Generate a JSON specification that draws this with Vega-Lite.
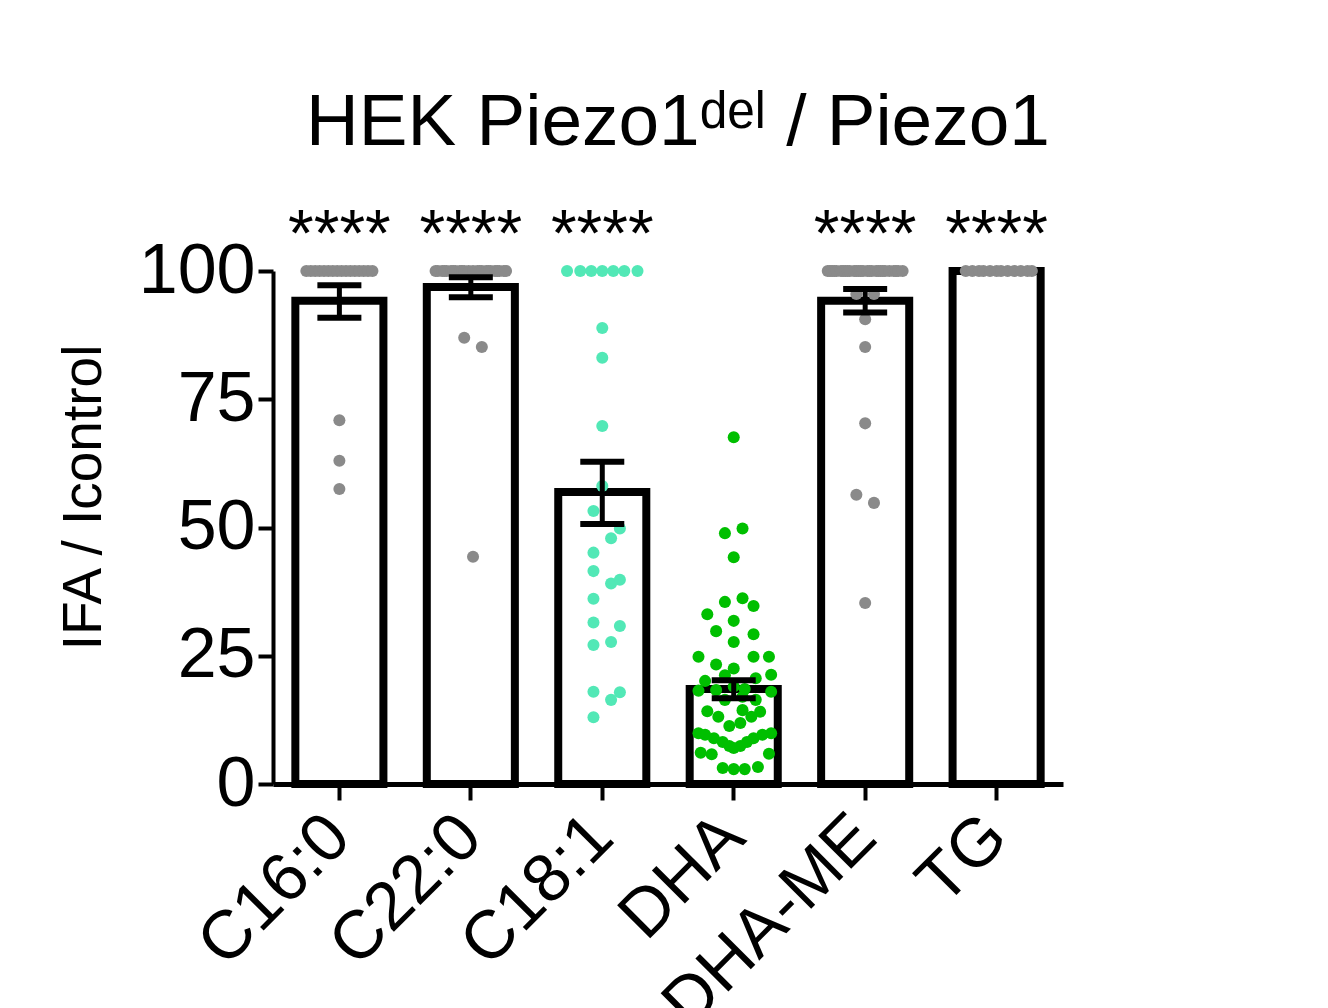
{
  "$schema": "https://vega.github.io/schema/vega-lite/v6.json",
  "width": 790,
  "height": 513,
  "autosize": {"type": "none"},
  "padding": {"left": 273, "top": 271, "right": 265, "bottom": 224},
  "background": "white",
  "config": {
    "font": "Liberation Sans",
    "view": {"stroke": null},
    "axisX": {
      "domainColor": "black", "domainWidth": 5,
      "tickColor": "black", "tickWidth": 4, "tickSize": 16,
      "labelFontSize": 68, "labelColor": "black", "labelAngle": -45,
      "labelAlign": "right", "labelBaseline": "middle", "labelPadding": 26,
      "labelLimit": 0, "grid": false
    },
    "axisY": {
      "domainColor": "black", "domainWidth": 4,
      "tickColor": "black", "tickWidth": 4, "tickSize": 15,
      "labelFontSize": 70, "labelColor": "black", "labelPadding": 3,
      "titleFontSize": 55, "titleFontWeight": "normal", "titleColor": "black",
      "titlePadding": 26, "grid": false
    }
  },
  "title": {
    "text": "HEK Piezo1ᵈᵉˡ / Piezo1",
    "fontSize": 73, "fontWeight": "normal", "color": "black",
    "anchor": "middle", "frame": "group", "baseline": "alphabetic",
    "offset": -15, "dx": 10
  },
  "resolve": {"scale": {"xOffset": "independent"}},
  "datasets": {
    "bars": [
      {"g": "C16:0", "mean": 94.2, "lo": 90.9, "hi": 97.2, "sig": "****"},
      {"g": "C22:0", "mean": 96.9, "lo": 94.9, "hi": 98.8, "sig": "****"},
      {"g": "C18:1", "mean": 56.9, "lo": 50.7, "hi": 62.8, "sig": "****"},
      {"g": "DHA", "mean": 18.5, "lo": 16.7, "hi": 20.2, "sig": ""},
      {"g": "DHA-ME", "mean": 94.2, "lo": 91.9, "hi": 96.5, "sig": "****"},
      {"g": "TG", "mean": 100, "lo": null, "hi": null, "sig": "****"}
    ],
    "pts": [
      {"g": "C16:0", "v": 100, "s": -15}, {"g": "C16:0", "v": 100, "s": -13},
      {"g": "C16:0", "v": 100, "s": -11}, {"g": "C16:0", "v": 100, "s": -9},
      {"g": "C16:0", "v": 100, "s": -7}, {"g": "C16:0", "v": 100, "s": -5},
      {"g": "C16:0", "v": 100, "s": -3}, {"g": "C16:0", "v": 100, "s": -1},
      {"g": "C16:0", "v": 100, "s": 1}, {"g": "C16:0", "v": 100, "s": 3},
      {"g": "C16:0", "v": 100, "s": 5}, {"g": "C16:0", "v": 100, "s": 7},
      {"g": "C16:0", "v": 100, "s": 9}, {"g": "C16:0", "v": 100, "s": 11},
      {"g": "C16:0", "v": 100, "s": 13}, {"g": "C16:0", "v": 100, "s": 15},
      {"g": "C16:0", "v": 70.9, "s": 0}, {"g": "C16:0", "v": 63.0, "s": 0},
      {"g": "C16:0", "v": 57.5, "s": 0},

      {"g": "C22:0", "v": 100, "s": -16}, {"g": "C22:0", "v": 100, "s": -15},
      {"g": "C22:0", "v": 100, "s": -13}, {"g": "C22:0", "v": 100, "s": -12},
      {"g": "C22:0", "v": 100, "s": -11}, {"g": "C22:0", "v": 100, "s": -9},
      {"g": "C22:0", "v": 100, "s": -8}, {"g": "C22:0", "v": 100, "s": -7},
      {"g": "C22:0", "v": 100, "s": -5}, {"g": "C22:0", "v": 100, "s": -4},
      {"g": "C22:0", "v": 100, "s": -3}, {"g": "C22:0", "v": 100, "s": -1},
      {"g": "C22:0", "v": 100, "s": 1}, {"g": "C22:0", "v": 100, "s": 3},
      {"g": "C22:0", "v": 100, "s": 4}, {"g": "C22:0", "v": 100, "s": 5},
      {"g": "C22:0", "v": 100, "s": 7}, {"g": "C22:0", "v": 100, "s": 8},
      {"g": "C22:0", "v": 100, "s": 9}, {"g": "C22:0", "v": 100, "s": 11},
      {"g": "C22:0", "v": 100, "s": 12}, {"g": "C22:0", "v": 100, "s": 13},
      {"g": "C22:0", "v": 100, "s": 15}, {"g": "C22:0", "v": 100, "s": 16},
      {"g": "C22:0", "v": 87.0, "s": -3}, {"g": "C22:0", "v": 85.2, "s": 5},
      {"g": "C22:0", "v": 44.3, "s": 1},

      {"g": "C18:1", "v": 100, "s": -16}, {"g": "C18:1", "v": 100, "s": -10},
      {"g": "C18:1", "v": 100, "s": -5}, {"g": "C18:1", "v": 100, "s": 0},
      {"g": "C18:1", "v": 100, "s": 5}, {"g": "C18:1", "v": 100, "s": 10},
      {"g": "C18:1", "v": 100, "s": 16},
      {"g": "C18:1", "v": 88.9, "s": 0}, {"g": "C18:1", "v": 83.1, "s": 0},
      {"g": "C18:1", "v": 69.8, "s": 0}, {"g": "C18:1", "v": 58.1, "s": 0},
      {"g": "C18:1", "v": 53.2, "s": -4}, {"g": "C18:1", "v": 49.8, "s": 8},
      {"g": "C18:1", "v": 47.9, "s": 4}, {"g": "C18:1", "v": 45.1, "s": -4},
      {"g": "C18:1", "v": 41.5, "s": -4}, {"g": "C18:1", "v": 39.1, "s": 4},
      {"g": "C18:1", "v": 39.8, "s": 8}, {"g": "C18:1", "v": 36.1, "s": -4},
      {"g": "C18:1", "v": 31.5, "s": -4}, {"g": "C18:1", "v": 30.8, "s": 8},
      {"g": "C18:1", "v": 27.7, "s": 4}, {"g": "C18:1", "v": 27.1, "s": -4},
      {"g": "C18:1", "v": 18.0, "s": -4}, {"g": "C18:1", "v": 17.9, "s": 8},
      {"g": "C18:1", "v": 16.4, "s": 4}, {"g": "C18:1", "v": 13.0, "s": -4},

      {"g": "DHA", "v": 67.6, "s": 0}, {"g": "DHA", "v": 48.9, "s": -4},
      {"g": "DHA", "v": 49.8, "s": 4}, {"g": "DHA", "v": 44.2, "s": 0},
      {"g": "DHA", "v": 35.5, "s": -4}, {"g": "DHA", "v": 36.2, "s": 4},
      {"g": "DHA", "v": 34.7, "s": 9}, {"g": "DHA", "v": 33.1, "s": -12},
      {"g": "DHA", "v": 31.8, "s": 0}, {"g": "DHA", "v": 29.8, "s": -8},
      {"g": "DHA", "v": 29.2, "s": 9}, {"g": "DHA", "v": 27.7, "s": 0},
      {"g": "DHA", "v": 24.8, "s": -16}, {"g": "DHA", "v": 24.8, "s": 9},
      {"g": "DHA", "v": 24.8, "s": 16}, {"g": "DHA", "v": 23.3, "s": -8},
      {"g": "DHA", "v": 22.5, "s": 0}, {"g": "DHA", "v": 21.2, "s": -4},
      {"g": "DHA", "v": 21.3, "s": 17}, {"g": "DHA", "v": 20.6, "s": 10},
      {"g": "DHA", "v": 20.1, "s": -13}, {"g": "DHA", "v": 18.2, "s": -16},
      {"g": "DHA", "v": 18.0, "s": 17}, {"g": "DHA", "v": 18.3, "s": -8},
      {"g": "DHA", "v": 19.0, "s": 0}, {"g": "DHA", "v": 18.5, "s": 5},
      {"g": "DHA", "v": 16.4, "s": -4}, {"g": "DHA", "v": 16.4, "s": 10},
      {"g": "DHA", "v": 17.0, "s": 4}, {"g": "DHA", "v": 14.2, "s": -12},
      {"g": "DHA", "v": 13.1, "s": -7}, {"g": "DHA", "v": 14.4, "s": 4},
      {"g": "DHA", "v": 14.1, "s": 12}, {"g": "DHA", "v": 13.1, "s": 8},
      {"g": "DHA", "v": 11.3, "s": -2}, {"g": "DHA", "v": 11.9, "s": 3},
      {"g": "DHA", "v": 9.9, "s": -16}, {"g": "DHA", "v": 9.6, "s": -13},
      {"g": "DHA", "v": 8.9, "s": -9}, {"g": "DHA", "v": 8.2, "s": -5},
      {"g": "DHA", "v": 7.4, "s": -2}, {"g": "DHA", "v": 7.0, "s": 0},
      {"g": "DHA", "v": 7.4, "s": 3}, {"g": "DHA", "v": 8.2, "s": 6},
      {"g": "DHA", "v": 8.9, "s": 9}, {"g": "DHA", "v": 9.6, "s": 13},
      {"g": "DHA", "v": 9.9, "s": 17}, {"g": "DHA", "v": 6.1, "s": -15},
      {"g": "DHA", "v": 5.8, "s": -10}, {"g": "DHA", "v": 5.9, "s": 16},
      {"g": "DHA", "v": 3.1, "s": -5}, {"g": "DHA", "v": 2.9, "s": 0},
      {"g": "DHA", "v": 2.9, "s": 5}, {"g": "DHA", "v": 3.3, "s": 11},

      {"g": "DHA-ME", "v": 100, "s": -17}, {"g": "DHA-ME", "v": 100, "s": -16},
      {"g": "DHA-ME", "v": 100, "s": -15}, {"g": "DHA-ME", "v": 100, "s": -14},
      {"g": "DHA-ME", "v": 100, "s": -13}, {"g": "DHA-ME", "v": 100, "s": -11},
      {"g": "DHA-ME", "v": 100, "s": -10}, {"g": "DHA-ME", "v": 100, "s": -9},
      {"g": "DHA-ME", "v": 100, "s": -8}, {"g": "DHA-ME", "v": 100, "s": -7},
      {"g": "DHA-ME", "v": 100, "s": -5}, {"g": "DHA-ME", "v": 100, "s": -4},
      {"g": "DHA-ME", "v": 100, "s": -3}, {"g": "DHA-ME", "v": 100, "s": -2},
      {"g": "DHA-ME", "v": 100, "s": -1}, {"g": "DHA-ME", "v": 100, "s": 1},
      {"g": "DHA-ME", "v": 100, "s": 2}, {"g": "DHA-ME", "v": 100, "s": 3},
      {"g": "DHA-ME", "v": 100, "s": 5}, {"g": "DHA-ME", "v": 100, "s": 6},
      {"g": "DHA-ME", "v": 100, "s": 7}, {"g": "DHA-ME", "v": 100, "s": 8},
      {"g": "DHA-ME", "v": 100, "s": 9}, {"g": "DHA-ME", "v": 100, "s": 11},
      {"g": "DHA-ME", "v": 100, "s": 13}, {"g": "DHA-ME", "v": 100, "s": 14},
      {"g": "DHA-ME", "v": 100, "s": 15}, {"g": "DHA-ME", "v": 100, "s": 17},
      {"g": "DHA-ME", "v": 95.5, "s": -4}, {"g": "DHA-ME", "v": 95.5, "s": 4},
      {"g": "DHA-ME", "v": 90.6, "s": 0}, {"g": "DHA-ME", "v": 85.2, "s": 0},
      {"g": "DHA-ME", "v": 70.3, "s": 0}, {"g": "DHA-ME", "v": 56.4, "s": -4},
      {"g": "DHA-ME", "v": 54.8, "s": 4}, {"g": "DHA-ME", "v": 35.3, "s": 0},

      {"g": "TG", "v": 100, "s": -14}, {"g": "TG", "v": 100, "s": -11},
      {"g": "TG", "v": 100, "s": -8}, {"g": "TG", "v": 100, "s": -6},
      {"g": "TG", "v": 100, "s": -3}, {"g": "TG", "v": 100, "s": 0},
      {"g": "TG", "v": 100, "s": 2}, {"g": "TG", "v": 100, "s": 5},
      {"g": "TG", "v": 100, "s": 8}, {"g": "TG", "v": 100, "s": 11},
      {"g": "TG", "v": 100, "s": 14}, {"g": "TG", "v": 100, "s": 16}
    ]
  },
  "encoding": {
    "x": {
      "field": "g", "type": "nominal", "title": null,
      "sort": ["C16:0", "C22:0", "C18:1", "DHA", "DHA-ME", "TG"],
      "scale": {"paddingInner": 0.33, "paddingOuter": 0.17}
    }
  },
  "layer": [
    {
      "data": {"name": "bars"},
      "mark": {"type": "bar", "fill": "white", "stroke": "black", "strokeWidth": 8},
      "encoding": {
        "y": {
          "field": "mean", "type": "quantitative", "title": "IFA / Icontrol",
          "scale": {"domain": [0, 100], "nice": false},
          "axis": {"values": [0, 25, 50, 75, 100], "titleY": 226}
        }
      }
    },
    {
      "data": {"name": "pts"},
      "mark": {"type": "circle", "size": 145, "opacity": 1},
      "encoding": {
        "y": {"field": "v", "type": "quantitative", "title": "IFA / Icontrol"},
        "xOffset": {"field": "s", "type": "quantitative", "scale": {"domain": [-20, 20]}},
        "color": {
          "field": "g", "type": "nominal", "legend": null,
          "scale": {
            "domain": ["C16:0", "C22:0", "C18:1", "DHA", "DHA-ME", "TG"],
            "range": ["#8a8a8a", "#8a8a8a", "#52e8b6", "#00bf00", "#8a8a8a", "#8a8a8a"]
          }
        }
      }
    },
    {
      "data": {"name": "bars"},
      "mark": {"type": "rule", "color": "black", "strokeWidth": 5},
      "encoding": {
        "y": {"field": "lo", "type": "quantitative", "title": "IFA / Icontrol"},
        "y2": {"field": "hi"}
      }
    },
    {
      "data": {"name": "bars"},
      "mark": {"type": "tick", "color": "black", "size": 44, "thickness": 6, "opacity": 1},
      "encoding": {
        "y": {"field": "lo", "type": "quantitative", "title": "IFA / Icontrol"}
      }
    },
    {
      "data": {"name": "bars"},
      "mark": {"type": "tick", "color": "black", "size": 44, "thickness": 6, "opacity": 1},
      "encoding": {
        "y": {"field": "hi", "type": "quantitative", "title": "IFA / Icontrol"}
      }
    },
    {
      "data": {"name": "bars"},
      "mark": {"type": "text", "fontSize": 66, "color": "black", "baseline": "alphabetic"},
      "encoding": {
        "y": {"datum": 102.9},
        "text": {"field": "sig"}
      }
    }
  ]
}
